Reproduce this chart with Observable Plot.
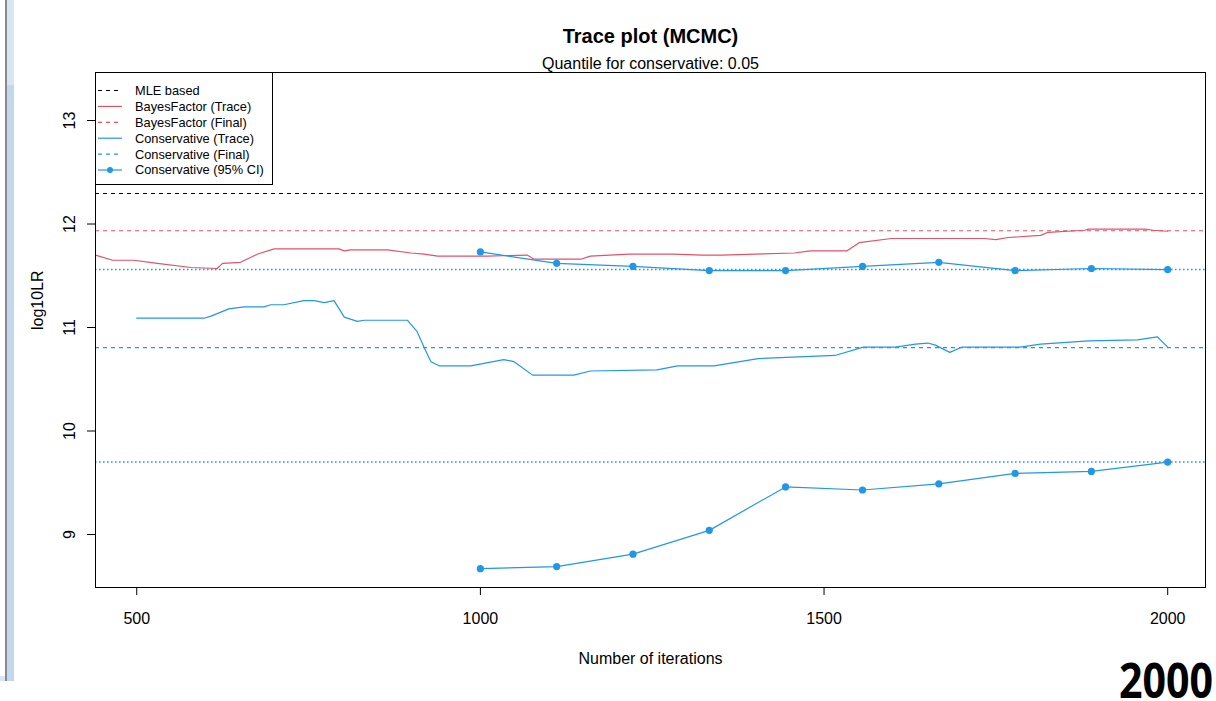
<!DOCTYPE html>
<html>
<head>
<meta charset="utf-8">
<script src="https://cdn.jsdelivr.net/npm/d3@7"></script>
<script src="https://cdn.jsdelivr.net/npm/@observablehq/plot@0.6"></script>
<style>
  html, body { margin: 0; padding: 0; background: #fff; overflow: hidden; }
  #wrap { position: relative; width: 1216px; height: 701px; font-family: "Liberation Sans", Arial, sans-serif; }
  #chart svg { display: block; }
  .barDark { position: absolute; left: 5px; top: 0; width: 2px; height: 681px; background: #8a8a8a; }
  .barBlue { position: absolute; left: 7px; top: 0; width: 7px; height: 681px; background: #c3d8ef; }
  .barBlueTop { position: absolute; left: 7px; top: 0; width: 7px; height: 85px; background: #d7e5f5; }
  .barFoot { position: absolute; left: 0; top: 676px; width: 5px; height: 5px; background: #d7e5f5; }
  #legend { position: absolute; left: 95px; top: 72px; }
  #stamp { position: absolute; right: 3px; top: 659px; font-family: "Open Sans", "Liberation Sans", sans-serif; font-weight: 700; font-size: 49px; line-height: 40px; color: #000; transform: scaleX(0.84); transform-origin: right top; }
</style>
</head>
<body>
<div id="wrap">
  <div id="chart"></div>
  <div class="barBlue"></div>
  <div class="barBlueTop"></div>
  <div class="barDark"></div>
  <div class="barFoot"></div>
  <svg id="legend" width="178" height="113"></svg>
  <div id="stamp">2000</div>
</div>
<script>
// ---------- data ----------
const titleText = "Trace plot (MCMC)";
const subtitleText = "Quantile for conservative: 0.05";
const xLabel = "Number of iterations";
const yLabel = "log10LR";
const stampText = "2000";

const xTicks = [500, 1000, 1500, 2000];
const yTicks = [9, 10, 11, 12, 13];

// BayesFactor trace
const bfIter  = [440, 465, 496, 530, 579, 617, 625, 651, 676, 700, 794, 802, 811, 865, 899, 918, 938, 1010, 1068, 1078, 1146, 1160, 1216, 1281, 1322, 1351, 1457, 1480, 1533, 1551, 1598, 1733, 1750, 1768, 1815, 1826, 1879, 1885, 1967, 1979, 2000];
const bfTrace = [11.70, 11.65, 11.65, 11.62, 11.58, 11.57, 11.62, 11.63, 11.71, 11.76, 11.76, 11.74, 11.75, 11.75, 11.72, 11.71, 11.69, 11.69, 11.70, 11.66, 11.66, 11.69, 11.71, 11.71, 11.70, 11.70, 11.72, 11.74, 11.74, 11.82, 11.86, 11.86, 11.85, 11.87, 11.89, 11.92, 11.94, 11.95, 11.95, 11.94, 11.93];

// Conservative trace
const consIter  = [500, 598, 608, 634, 656, 685, 695, 714, 743, 758, 773, 787, 802, 821, 831, 894, 908, 918, 928, 940, 986, 1034, 1049, 1076, 1136, 1160, 1257, 1287, 1340, 1404, 1516, 1557, 1604, 1633, 1651, 1662, 1683, 1700, 1785, 1815, 1885, 1956, 1985, 2000];
const consTrace = [11.09, 11.09, 11.11, 11.18, 11.20, 11.20, 11.22, 11.22, 11.26, 11.26, 11.24, 11.26, 11.10, 11.06, 11.07, 11.07, 10.96, 10.81, 10.67, 10.63, 10.63, 10.69, 10.67, 10.54, 10.54, 10.58, 10.59, 10.63, 10.63, 10.70, 10.73, 10.81, 10.81, 10.84, 10.85, 10.83, 10.76, 10.81, 10.81, 10.84, 10.87, 10.88, 10.91, 10.81];

// Conservative 95% CI
const ciIter  = [1000, 1111, 1222, 1333, 1444, 1556, 1667, 1778, 1889, 2000];
const ciUpper = [11.73, 11.62, 11.59, 11.55, 11.55, 11.59, 11.63, 11.55, 11.57, 11.56];
const ciLower = [8.67, 8.69, 8.81, 9.04, 9.46, 9.43, 9.49, 9.59, 9.61, 9.70];

// final / reference values
const mleBased = 12.295;
const bfFinal = 11.935;
const consFinal = 10.805;
const ciUpperFinal = 11.56;
const ciLowerFinal = 9.70;

const legendLabels = ["MLE based", "BayesFactor (Trace)", "BayesFactor (Final)", "Conservative (Trace)", "Conservative (Final)", "Conservative (95% CI)"];
const legendColors = ["#000000", "#DF536B", "#DF536B", "#2297E6", "#2297E6", "#2297E6"];
const legendDash   = ["4,4", null, "4,4", null, "4,4", null];
const legendPoint  = [false, false, false, false, false, true];

// ---------- build ----------
const RED = "#DF536B", BLUE = "#2297E6";
const bfData = bfIter.map((x, i) => ({x, y: bfTrace[i]}));
const consData = consIter.map((x, i) => ({x, y: consTrace[i]}));
const upData = ciIter.map((x, i) => ({x, y: ciUpper[i]}));
const loData = ciIter.map((x, i) => ({x, y: ciLower[i]}));
const lw = 1.2;

const chart = Plot.plot({
  width: 1216,
  height: 701,
  marginLeft: 95,
  marginRight: 11,
  marginTop: 72,
  marginBottom: 114,
  style: {fontFamily: "'Liberation Sans', Arial, sans-serif", fontSize: "16px", color: "black", background: "white"},
  x: {domain: [440, 2055]},
  y: {domain: [8.488, 13.464]},
  marks: [
    Plot.axisX({ticks: xTicks, tickSize: 8, tickPadding: 17, label: null, fontSize: 16, tickFormat: d => String(d)}),
    Plot.axisY({ticks: yTicks, tickSize: 8, tickPadding: 13, tickRotate: -90, label: null, fontSize: 16, tickFormat: d => String(d)}),
    Plot.ruleY([mleBased], {stroke: "#000", strokeWidth: lw, strokeDasharray: "4,4"}),
    Plot.line(bfData, {x: "x", y: "y", stroke: RED, strokeWidth: lw}),
    Plot.ruleY([bfFinal], {stroke: RED, strokeWidth: lw, strokeDasharray: "4,4"}),
    Plot.line(consData, {x: "x", y: "y", stroke: BLUE, strokeWidth: lw}),
    Plot.ruleY([consFinal], {stroke: BLUE, strokeWidth: lw, strokeDasharray: "4,4"}),
    Plot.ruleY([ciUpperFinal, ciLowerFinal], {stroke: BLUE, strokeWidth: 1.6, strokeDasharray: "1.6,2.4"}),
    Plot.line(upData, {x: "x", y: "y", stroke: BLUE, strokeWidth: lw}),
    Plot.line(loData, {x: "x", y: "y", stroke: BLUE, strokeWidth: lw}),
    Plot.dot(upData, {x: "x", y: "y", fill: BLUE, r: 3.6}),
    Plot.dot(loData, {x: "x", y: "y", fill: BLUE, r: 3.6}),
    Plot.frame({stroke: "black", strokeWidth: 1}),
    Plot.text([titleText], {frameAnchor: "top", lineAnchor: "bottom", dy: -30, fontSize: 20, fontWeight: "bold", fill: "black"}),
    Plot.text([subtitleText], {frameAnchor: "top", lineAnchor: "bottom", dy: -4, fontSize: 16, fill: "black"}),
    Plot.text([xLabel], {frameAnchor: "bottom", lineAnchor: "bottom", dy: 76, fontSize: 16, fill: "black"}),
    Plot.text([yLabel], {frameAnchor: "left", lineAnchor: "bottom", rotate: -90, dx: -53, fontSize: 16, fill: "black"})
  ]
});
document.getElementById("chart").appendChild(chart);

// legend
const lg = d3.select("#legend");
lg.append("rect").attr("x", 0.5).attr("y", 0.5).attr("width", 177).attr("height", 112)
  .attr("fill", "white").attr("stroke", "black").attr("stroke-width", 1);
legendLabels.forEach((lab, i) => {
  const cy = 18.5 + i * 15.9;
  lg.append("line").attr("x1", 3).attr("x2", 27).attr("y1", cy).attr("y2", cy)
    .attr("stroke", legendColors[i]).attr("stroke-width", lw)
    .attr("stroke-dasharray", legendDash[i]);
  if (legendPoint[i]) lg.append("circle").attr("cx", 15).attr("cy", cy).attr("r", 3).attr("fill", legendColors[i]);
  lg.append("text").attr("x", 40).attr("y", cy).attr("dy", "0.35em")
    .attr("font-family", "'Liberation Sans', Arial, sans-serif").attr("font-size", 12.8)
    .attr("fill", "black").text(lab);
});
document.getElementById("stamp").textContent = stampText;
</script>
</body>
</html>
